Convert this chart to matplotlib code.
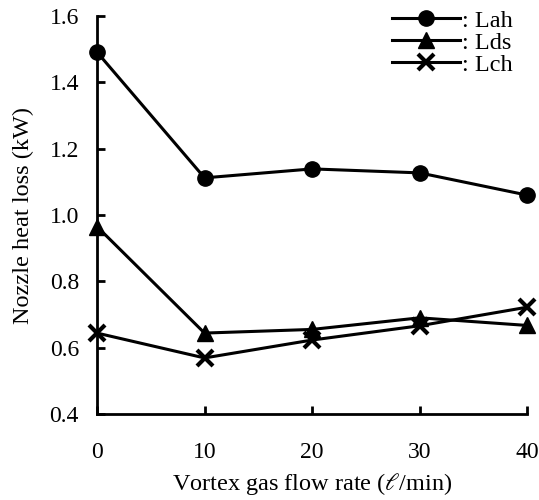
import matplotlib
matplotlib.use("Agg")
import matplotlib.pyplot as plt

flow_rate = [0, 10, 20, 30, 40]
lah = [1.491, 1.112, 1.139, 1.127, 1.060]
lds = [0.965, 0.644, 0.655, 0.690, 0.667]
lch = [0.644, 0.569, 0.623, 0.666, 0.722]

plt.rcParams["font.family"] = ["Liberation Serif", "DejaVu Serif"]
plt.rcParams["mathtext.fontset"] = "stix"

fig = plt.figure(figsize=(5.39, 5.0), dpi=100)
ax = fig.add_axes([0.18, 0.172, 0.798, 0.796])

ax.plot(flow_rate, lah, color="black", lw=2.2, marker="o", ms=11, label=": Lah", clip_on=False)
ax.plot(flow_rate, lds, color="black", lw=2.2, marker="^", ms=11, label=": Lds", clip_on=False)
ax.plot(flow_rate, lch, color="black", lw=2.2, marker="x", ms=11, mew=3, label=": Lch", clip_on=False)

ax.set_xlim(0, 40)
ax.set_ylim(0.4, 1.6)
ax.set_xticks([0, 10, 20, 30, 40])
ax.set_yticks([0.4, 0.6, 0.8, 1.0, 1.2, 1.4, 1.6])
ax.set_yticklabels(["0.4", "0.6", "0.8", "1.0", "1.2", "1.4", "1.6"])

ax.spines["top"].set_visible(False)
ax.spines["right"].set_visible(False)
for s in ["left", "bottom"]:
    ax.spines[s].set_linewidth(2)
ax.tick_params(direction="in", length=6, width=2, labelsize=17)
ax.tick_params(axis="x", pad=20)
ax.tick_params(axis="y", pad=13)

ax.set_xlabel(r"Vortex gas flow rate ($\ell$/min)", fontsize=17.5, labelpad=6)
ax.set_ylabel("Nozzle heat loss (kW)", fontsize=17.5, labelpad=11)

ax.legend(loc="upper right", frameon=False, fontsize=17.5, handlelength=2.8,
          handletextpad=0.1, labelspacing=0.0, borderaxespad=0.0,
          bbox_to_anchor=(0.99, 1.04))

fig.savefig("out.png", dpi=100)
